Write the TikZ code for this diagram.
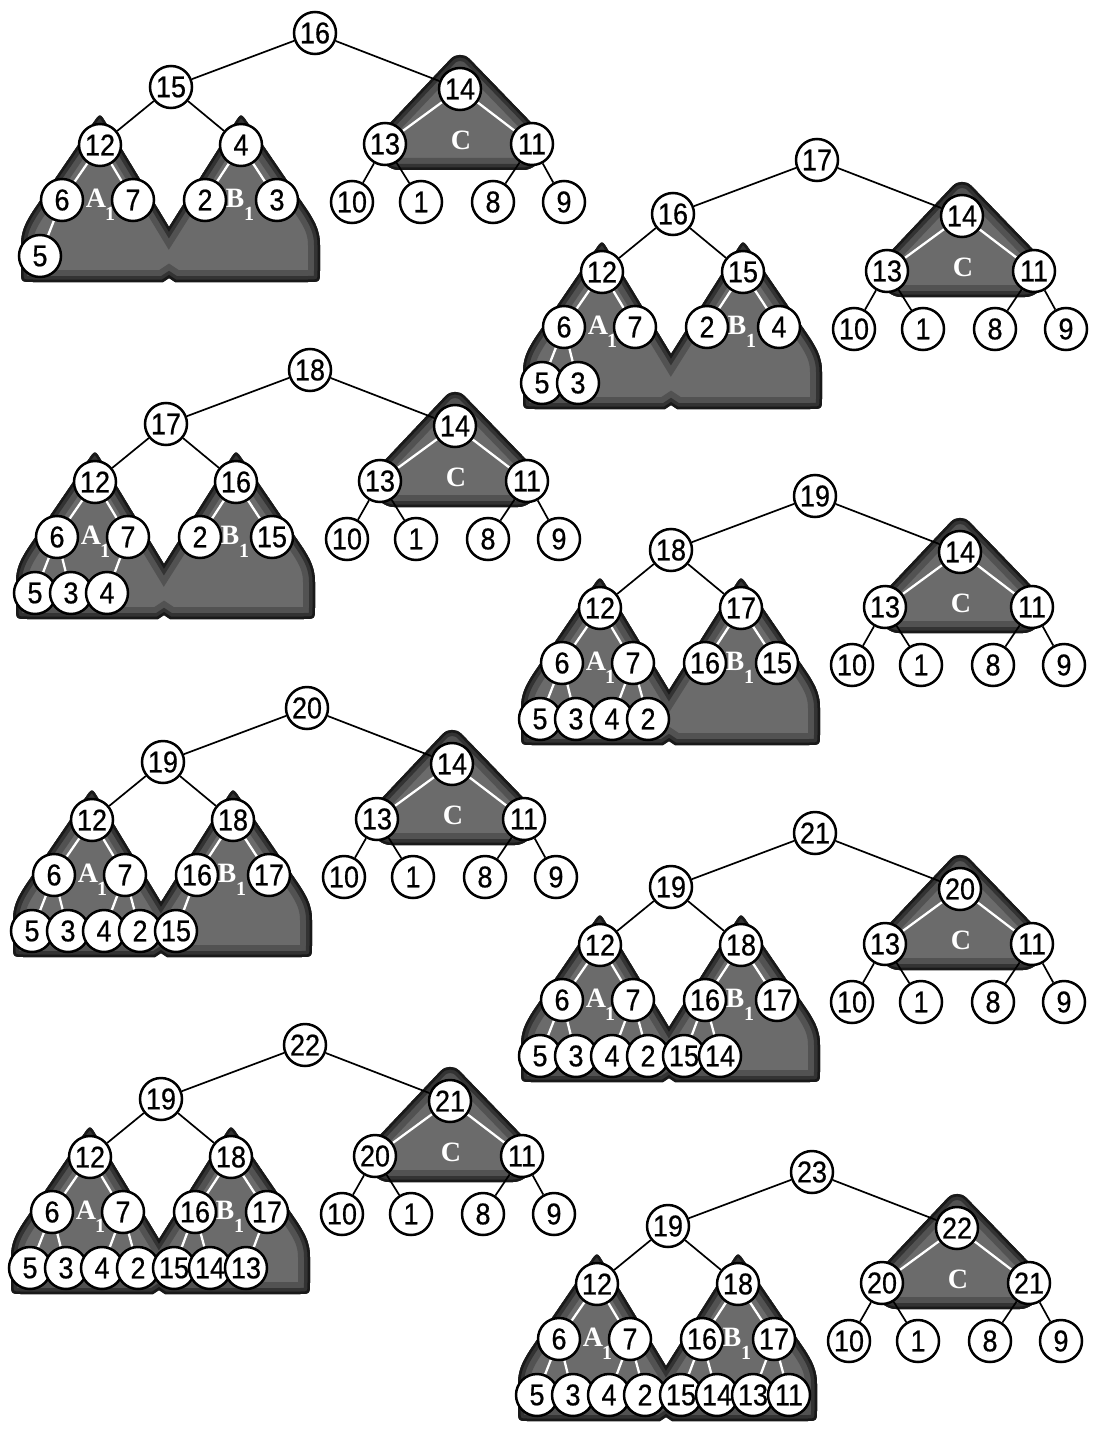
\documentclass[tikz,border=0pt]{standalone}
\usepackage{fontspec}
\setmainfont{Liberation Sans}
\newfontfamily\numfont[FakeBold=0.6,FakeStretch=0.9]{Liberation Sans}
\newfontfamily\lblfont{Liberation Serif}
\pgfdeclarelayer{bg}
\pgfdeclarelayer{mid}
\pgfsetlayers{bg,mid,main}
\tikzset{
  nd/.style={circle, draw=black, line width=2.5pt, fill=white, minimum size=42pt, inner sep=0pt, font=\numfont\fontsize{30}{30}\selectfont},
  bedge/.style={draw=black, line width=1.7pt},
  wedge/.style={draw=white, line width=2.3pt},
  lbl/.style={text=white, inner sep=0pt, font=\lblfont\bfseries\fontsize{28}{28}\selectfont},
  subl/.style={text=white, inner sep=0pt, font=\lblfont\bfseries\fontsize{20}{20}\selectfont},
}
\def\pathAB{(-146,245) -- (-152,249) -- (-282,249) .. controls (-294,249) .. (-294,237) -- (-294,212) .. controls (-294,198) and (-289,189) .. (-282,178) -- (-221.8,89.9) .. controls (-215,80) .. (-208.8,90.3) -- (-146,194) -- (-80.4,90.2) .. controls (-74,80) .. (-67.2,89.9) -- (-7,178) .. controls (0,189) and (5,198) .. (5,212) -- (5,237) .. controls (5,249) .. (-7,249) -- (-140,249) -- cycle}
\def\pathC{[rounded corners=14pt] (145,137) -- (222,137) -- (234,108) -- (145,16) -- (58,108) -- (70,137) -- cycle}
\newcommand\shadearea[1]{%
  \begin{scope}
    \clip #1;
    \fill[black!58] #1;
    \draw[black!68, line width=24pt] #1;
    \draw[black!80, line width=12pt] #1;
    \draw[black!90, line width=5pt] #1;
  \end{scope}}
\newcommand\drawpanel[9]{%
\begin{scope}[shift={#1}]
  \begin{pgfonlayer}{bg}
    \shadearea{\pathAB}
    \shadearea{\pathC}
  \end{pgfonlayer}
  \node[nd] (t#2-r) at (0,0) {#2};
  \node[nd] (t#2-L) at (-144,54) {#3};
  \node[nd] (t#2-R) at (145,56) {#4};
  \node[nd] (t#2-LL) at (-215,112) {12};
  \node[nd] (t#2-LR) at (-74,112) {#5};
  \node[nd] (t#2-RL) at (70,111) {#6};
  \node[nd] (t#2-RR) at (217,111) {#7};
  \node[nd] (t#2-p0) at (-253,167) {6};
  \node[nd] (t#2-p1) at (-182,167) {7};
  \node[nd] (t#2-p2) at (-110,167) {#8};
  \node[nd] (t#2-p3) at (-38,167) {#9};
  \node[nd] (t#2-q0) at (37,169) {10};
  \node[nd] (t#2-q1) at (106,169) {1};
  \node[nd] (t#2-q2) at (178,169) {8};
  \node[nd] (t#2-q3) at (249,169) {9};
  \foreach \v [count=\i from 0] in \leaflist {\node[nd] (t#2-f\i) at ({-275+36*\i},223) {\v};}
  \begin{pgfonlayer}{mid}
    \draw[bedge] (t#2-r) -- (t#2-L);
    \draw[bedge] (t#2-r) -- (t#2-R);
    \draw[bedge] (t#2-L) -- (t#2-LL);
    \draw[bedge] (t#2-L) -- (t#2-LR);
    \draw[bedge] (t#2-RL) -- (t#2-q0);
    \draw[bedge] (t#2-RL) -- (t#2-q1);
    \draw[bedge] (t#2-RR) -- (t#2-q2);
    \draw[bedge] (t#2-RR) -- (t#2-q3);
    \draw[wedge] (t#2-R) -- (t#2-RL);
    \draw[wedge] (t#2-R) -- (t#2-RR);
    \draw[wedge] (t#2-LL) -- (t#2-p0);
    \draw[wedge] (t#2-LL) -- (t#2-p1);
    \draw[wedge] (t#2-LR) -- (t#2-p2);
    \draw[wedge] (t#2-LR) -- (t#2-p3);
    \foreach \v [count=\i from 0] in \leaflist {\pgfmathtruncatemacro\pp{\i/2}\draw[wedge] (t#2-p\pp) -- (t#2-f\i);}
    \node[lbl] (t#2-a) at (-219,165) {A};
    \node[subl] (t#2-a1) at (-205,181) {1};
    \node[lbl] (t#2-b) at (-80,165) {B};
    \node[subl] (t#2-b1) at (-66,181) {1};
    \node[lbl] (t#2-c) at (146,107) {C};
  \end{pgfonlayer}
\end{scope}}
\begin{document}
\begin{tikzpicture}[x=1pt,y=-1pt]
\begin{pgfonlayer}{bg}
\fill[white] (0,0) rectangle (1094,1431);
\end{pgfonlayer}
\useasboundingbox (0,0) rectangle (1094,1431);
\def\leaflist{5}
\drawpanel{(315,33)}{16}{15}{14}{4}{13}{11}{2}{3}
\def\leaflist{5,3}
\drawpanel{(817,160)}{17}{16}{14}{15}{13}{11}{2}{4}
\def\leaflist{5,3,4}
\drawpanel{(310,370)}{18}{17}{14}{16}{13}{11}{2}{15}
\def\leaflist{5,3,4,2}
\drawpanel{(815,496)}{19}{18}{14}{17}{13}{11}{16}{15}
\def\leaflist{5,3,4,2,15}
\drawpanel{(307,708)}{20}{19}{14}{18}{13}{11}{16}{17}
\def\leaflist{5,3,4,2,15,14}
\drawpanel{(815,833)}{21}{19}{20}{18}{13}{11}{16}{17}
\def\leaflist{5,3,4,2,15,14,13}
\drawpanel{(305,1045)}{22}{19}{21}{18}{20}{11}{16}{17}
\def\leaflist{5,3,4,2,15,14,13,11}
\drawpanel{(812,1172)}{23}{19}{22}{18}{20}{21}{16}{17}
\end{tikzpicture}
\end{document}
